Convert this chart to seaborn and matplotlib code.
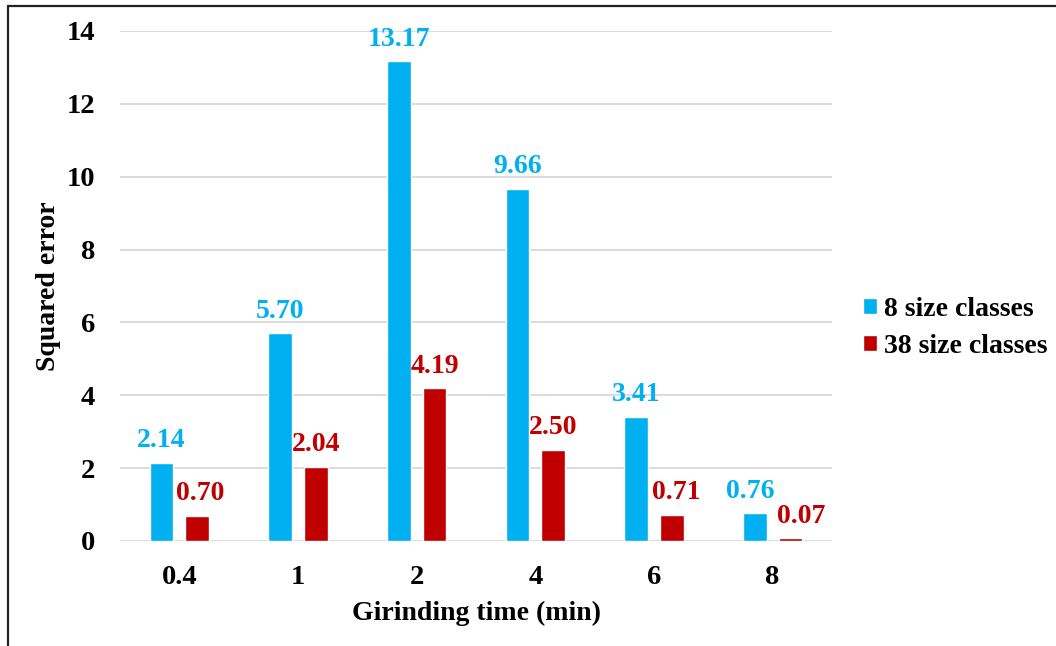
import matplotlib
matplotlib.use("Agg")
import matplotlib.pyplot as plt
from matplotlib.lines import Line2D
import seaborn as sns
import pandas as pd

# Grinding times (min) and squared errors for the two size-class schemes
times = ["0.4", "1", "2", "4", "6", "8"]
err_8_classes = [2.14, 5.70, 13.17, 9.66, 3.41, 0.76]
err_38_classes = [0.70, 2.04, 4.19, 2.50, 0.71, 0.07]
series_names = ["8 size classes", "38 size classes"]
colors = ["#00B0F0", "#C00000"]

df = pd.DataFrame({
    "time": times * 2,
    "error": err_8_classes + err_38_classes,
    "series": [series_names[0]] * len(times) + [series_names[1]] * len(times),
})

sns.set_theme(style="white")
plt.rcParams["font.family"] = ["Liberation Serif", "DejaVu Serif"]
plt.rcParams["font.weight"] = "bold"
plt.rcParams["text.color"] = "black"

fig = plt.figure(figsize=(10.56, 6.46), dpi=100)
ax = fig.add_axes([120 / 1056, 1 - 541 / 646, 712 / 1056, 510 / 646])

sns.barplot(data=df, x="time", y="error", hue="series", order=times,
            hue_order=series_names, palette=colors, width=0.6, gap=1 / 3,
            saturation=1, ax=ax, legend=True)

ax.set_ylim(0, 14)
ax.set_xlim(-0.5, len(times) - 0.5)
ax.set_yticks(range(0, 15, 2))
ax.yaxis.grid(True, color="#D9D9D9", linewidth=1.3)
ax.set_axisbelow(True)
for s in ax.spines.values():
    s.set_visible(False)
ax.tick_params(axis="both", length=0, labelsize=20.5, colors="black")
ax.tick_params(axis="x", pad=17)
ax.tick_params(axis="y", pad=18)
for lbl in ax.get_xticklabels() + ax.get_yticklabels():
    lbl.set_fontweight("bold")

ax.set_xlabel("Girinding time (min)", fontsize=20, fontweight="bold",
              labelpad=8, color="black")
ax.set_ylabel("Squared error", fontsize=20, fontweight="bold",
              labelpad=4, color="black")

# Value labels above each bar; the two smallest at 8 min are nudged apart
nudge = {(0, 5): -5, (1, 5): 11, (1, 0): 3, (1, 4): 4}
for si, (cont, col) in enumerate(zip(ax.containers, colors)):
    texts = ax.bar_label(cont, fmt="%.2f", padding=7, color=col, fontsize=20,
                         fontweight="bold")
    for ci, t in enumerate(texts):
        dx = nudge.get((si, ci), 0)
        if dx:
            x, y = t.xyann
            t.xyann = (x + dx * 0.72, y)

leg = ax.legend(loc="center left", bbox_to_anchor=(863 / 1056, 1 - 328 / 646),
                bbox_transform=fig.transFigure, frameon=False, fontsize=20,
                handlelength=0.5, handleheight=0.5, handletextpad=0.25,
                labelspacing=0.44, borderpad=0, borderaxespad=0)
for t in leg.get_texts():
    t.set_fontweight("bold")
    t.set_color("black")

# Frame lines along the top and left edges of the figure
x0 = 8 / 1056
y0 = 1 - 6 / 646
fig.add_artist(Line2D([x0, 1], [y0, y0], transform=fig.transFigure,
                      color="#222222", linewidth=1.6))
fig.add_artist(Line2D([x0, x0], [0, y0], transform=fig.transFigure,
                      color="#222222", linewidth=1.6))

fig.savefig("out.png", dpi=100)
